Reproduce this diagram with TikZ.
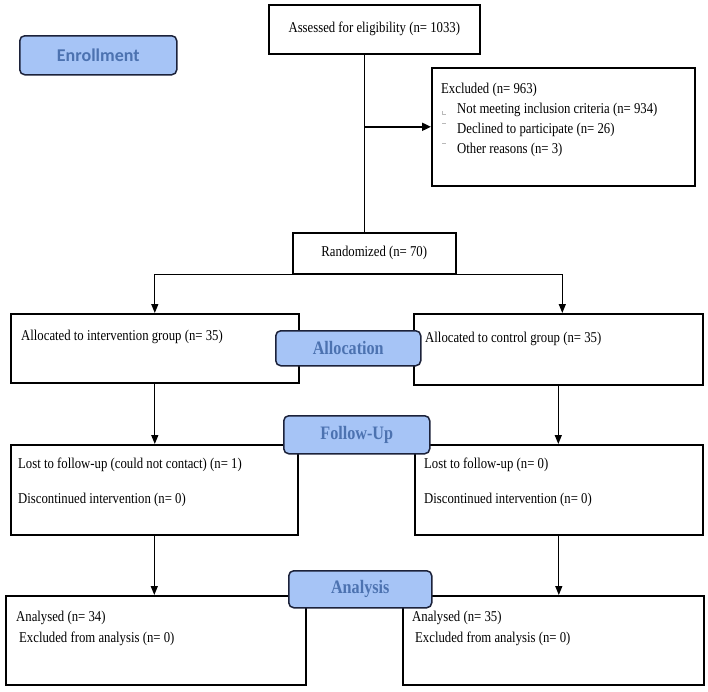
\documentclass[tikz,border=0pt]{standalone}
\usepackage{fontspec}
\setmainfont{Liberation Serif}[FakeStretch=0.85]
\newfontfamily\lblsans{Carlito}
\usetikzlibrary{arrows.meta}
\definecolor{lblfill}{RGB}{166,196,246}
\definecolor{lbltext}{RGB}{76,114,176}
\definecolor{lbldraw}{RGB}{28,34,58}
\begin{document}
\begin{tikzpicture}[x=1pt,y=-1pt,
  box/.style={draw=black, line width=1.6pt, fill=white, inner sep=0pt, anchor=north west,
    font=\fontsize{15}{18}\selectfont},
  lbl/.style={draw=lbldraw, line width=1.5pt, fill=lblfill, rounded corners=5pt, inner sep=0pt,
    text=lbltext, anchor=north west, font=\bfseries\fontsize{19}{19}\selectfont},
  txt/.style={anchor=base west, inner sep=0pt, font=\fontsize{15}{18}\selectfont},
  arr/.style={line width=1.3pt, -{Triangle[length=9pt,width=7pt]}},
  arrbig/.style={line width=1.8pt, -{Triangle[length=9pt,width=8pt]}},
  plain/.style={line width=1.3pt},
  bulletmark/.style={draw=gray!55, line width=0.8pt}
]
\useasboundingbox (0,0) rectangle (708,691);

% boxes
\node[box, minimum width=211, minimum height=49] (assess) at (268,4) {Assessed for eligibility (n= 1033)};
\node[box, minimum width=263, minimum height=118] (excl) at (431,67) {};
\node[box, minimum width=163, minimum height=41] (rand) at (292,232) {Randomized (n= 70)};
\node[box, minimum width=288, minimum height=69] (allocL) at (10,313) {};
\node[box, minimum width=289, minimum height=71] (allocR) at (413,313) {};
\node[box, minimum width=287, minimum height=90] (fuL) at (10,444) {};
\node[box, minimum width=288, minimum height=90] (fuR) at (414,444) {};
\node[box, minimum width=300, minimum height=89] (anL) at (5,595) {};
\node[box, minimum width=301, minimum height=89] (anR) at (402,595) {};

% texts inside boxes
\node[txt] (ex0) at (441,93) {Excluded (n= 963)};
\node[txt] (ex1) at (457,113) {Not meeting inclusion criteria (n= 934)};
\node[txt] (ex2) at (457,133) {Declined to participate (n= 26)};
\node[txt] (ex3) at (457,153) {Other reasons (n= 3)};
\draw[bulletmark] (442,111) -- (442,114) -- (446,114);
\draw[bulletmark] (442,123) -- (446,123);
\draw[bulletmark] (442,143) -- (446,143);

\node[txt] (alL) at (21,340) {Allocated to intervention group (n= 35)};
\node[txt] (alR) at (425,342) {Allocated to control group (n= 35)};

\node[txt] (fuL1) at (18,468) {Lost to follow-up (could not contact) (n= 1)};
\node[txt] (fuL2) at (18,503) {Discontinued intervention (n= 0)};
\node[txt] (fuR1) at (424,468) {Lost to follow-up (n= 0)};
\node[txt] (fuR2) at (424,503) {Discontinued intervention (n= 0)};

\node[txt] (anL1) at (16,621) {Analysed (n= 34)};
\node[txt] (anL2) at (19,642) {Excluded from analysis (n= 0)};
\node[txt] (anR1) at (412,621) {Analysed (n= 35)};
\node[txt] (anR2) at (415,642) {Excluded from analysis (n= 0)};

% connectors
\draw[plain] ([xshift=-10pt]assess.south) -- ([xshift=-10pt]rand.north);
\draw[arrbig] ([xshift=-10pt]rand.north |- excl.west) -- (excl.west);
\draw[arr] (rand.south west) -| (allocL.north);
\draw[arr] (rand.south east) -| ([xshift=4pt]allocR.north);
\draw[arr] (allocL.south) -- (allocL.south |- fuL.north);
\draw[arr] (allocR.south) -- (allocR.south |- fuR.north);
\draw[arr] (fuL.south) -- (fuL.south |- anL.north);
\draw[arr] (fuR.south) -- (fuR.south |- anR.north);

% stage labels
\node[lbl, minimum width=157, minimum height=39, font=\lblsans\bfseries\fontsize{18}{18}\selectfont] (enr) at (19,35) {Enrollment};
\node[lbl, minimum width=145, minimum height=35] (allo) at (275,330) {Allocation};
\node[lbl, minimum width=146, minimum height=38] (fup) at (283,415) {Follow-Up};
\node[lbl, minimum width=143, minimum height=37] (ana) at (288,570) {Analysis};
\end{tikzpicture}
\end{document}
